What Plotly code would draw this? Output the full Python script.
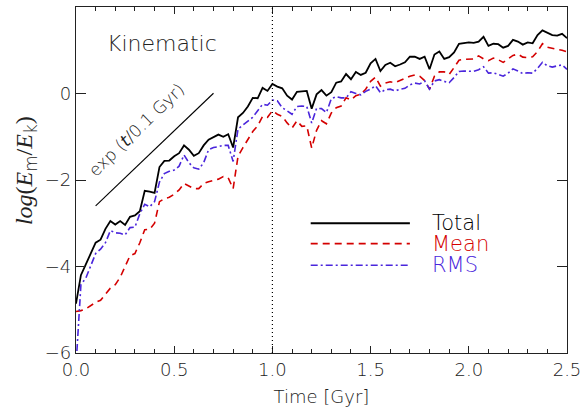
import numpy as np
import plotly.graph_objects as go

# Time grid [Gyr]
time = [round(0.025 * i, 3) for i in range(101)]

total = [-4.86, -4.2, -3.95, -3.7, -3.45, -3.38, -3.13, -2.95, -3.03, -2.95,
         -3.04, -2.85, -2.82, -2.72, -2.25, -2.27, -2.3, -1.7, -1.56, -1.55,
         -1.45, -1.38, -1.2, -1.3, -1.44, -1.38, -1.2, -1.07, -1.0, -0.95,
         -1.0, -0.94, -1.25, -0.55, -0.45, -0.3, -0.1, -0.11, 0.13, 0.06,
         0.22, 0.16, 0.12, -0.05, -0.14, 0.04, 0.05, 0.06, -0.35, -0.02,
         0.08, -0.05, 0.03, 0.25, 0.28, 0.45, 0.33, 0.5, 0.43, 0.48,
         0.7, 0.8, 0.52, 0.66, 0.71, 0.63, 0.67, 0.72, 0.85, 0.85,
         0.8, 0.85, 0.56, 0.9, 0.97, 0.8, 0.84, 0.95, 1.15, 1.17,
         1.18, 1.17, 1.2, 1.31, 1.1, 1.15, 1.14, 1.06, 1.1, 1.24,
         1.2, 1.13, 1.18, 1.16, 1.35, 1.46, 1.41, 1.35, 1.34, 1.38, 1.28]

mean = [-5.04, -5.02, -4.98, -4.9, -4.83, -4.78, -4.65, -4.5, -4.42, -4.25,
        -4.0, -3.75, -3.7, -3.45, -3.15, -3.14, -3.0, -2.5, -2.43, -2.4,
        -2.33, -2.23, -2.08, -2.15, -2.2, -2.2, -2.08, -2.04, -2.01, -1.98,
        -1.92, -1.95, -2.2, -1.45, -1.25, -1.05, -0.88, -0.75, -0.53, -0.55,
        -0.4, -0.48, -0.53, -0.68, -0.8, -0.63, -0.76, -0.75, -1.26, -0.85,
        -0.63, -0.7, -0.45, -0.33, -0.29, -0.1, -0.15, -0.05, -0.02, 0.1,
        0.28, 0.38, 0.17, 0.24, 0.27, 0.25, 0.3, 0.35, 0.4, 0.43,
        0.4, 0.3, 0.1, 0.4, 0.5, 0.5, 0.44, 0.6, 0.77, 0.79,
        0.79, 0.8, 0.87, 0.8, 0.76, 0.82, 0.78, 0.72, 0.8, 0.88,
        0.91, 0.84, 0.83, 0.85, 0.97, 1.15, 1.07, 1.04, 1.02, 1.0, 0.96]

rms = [-6.3, -4.42, -4.27, -4.0, -3.7, -3.6, -3.45, -3.17, -3.22, -3.23,
       -3.27, -3.1, -3.09, -2.78, -2.56, -2.62, -2.5, -2.05, -1.85, -1.8,
       -1.77, -1.68, -1.42, -1.6, -1.72, -1.75, -1.6, -1.3, -1.25, -1.23,
       -1.2, -1.2, -1.57, -0.82, -0.73, -0.65, -0.55, -0.4, -0.25, -0.27,
       -0.15, -0.17, -0.33, -0.4, -0.48, -0.3, -0.29, -0.3, -0.68, -0.34,
       -0.35, -0.44, -0.12, -0.07, -0.1, -0.1, 0.04, 0.0, -0.03, 0.05,
       0.1, 0.18, 0.02, 0.09, 0.1, 0.06, 0.1, 0.12, 0.2, 0.24,
       0.22, 0.29, 0.1, 0.29, 0.32, 0.28, 0.25, 0.37, 0.51, 0.52,
       0.52, 0.51, 0.55, 0.62, 0.47, 0.48, 0.44, 0.4, 0.47, 0.57,
       0.52, 0.46, 0.48, 0.47, 0.58, 0.72, 0.64, 0.61, 0.64, 0.66, 0.56]

x_ticks = [0.0, 0.5, 1.0, 1.5, 2.0, 2.5]
x_ticklabels = ["0.0", "0.5", "1.0", "1.5", "2.0", "2.5"]
y_ticks = [-6, -4, -2, 0, 2]

# reference growth line exp(t/0.1 Gyr) in log10
ref_t = [0.1, 0.7]
ref_y = [-2.6, -2.6 + (0.7 - 0.1) / 0.1 / np.log(10)]

series_names = ["Total", "Mean", "RMS"]
RED = "#d40000"
BLUE = "#4a26dc"
colors = ["black", RED, BLUE]
dashes = ["solid", "7px,5px", "7px,3px,2px,3px"]
widths = [1.8, 1.6, 1.6]

FONT = "DejaVu Sans, Liberation Sans, sans-serif"
SERIF = "Liberation Serif, DejaVu Serif, serif"
W = 200

fig = go.Figure()
for name, vals, c, d, w in zip(series_names, [total, mean, rms], colors, dashes, widths):
    fig.add_trace(go.Scatter(x=time, y=vals, mode="lines", name=name,
                             line=dict(color=c, dash=d, width=w), showlegend=False))

fig.add_trace(go.Scatter(x=ref_t, y=ref_y, mode="lines",
                         line=dict(color="black", width=1.1), showlegend=False))

# vertical dotted line at 1 Gyr
fig.add_shape(type="line", x0=1.0, x1=1.0, y0=0, y1=1, xref="x", yref="paper",
              line=dict(color="black", width=1.2, dash="1px,3px"))

# custom legend
leg_y = [-3.0, -3.47, -3.97]
for name, c, d, w, yy in zip(series_names, colors, dashes, widths, leg_y):
    fig.add_trace(go.Scatter(x=[1.195, 1.70], y=[yy, yy], mode="lines",
                             line=dict(color=c, dash=d, width=w), showlegend=False))
    fig.add_annotation(x=1.80, y=yy, text=name, showarrow=False, xanchor="left",
                       yanchor="middle", font=dict(family=FONT, size=21, color=c, weight=W))

fig.add_annotation(x=0.44, y=1.15, text="Kinematic", showarrow=False,
                   font=dict(family=FONT, size=22, color="#222", weight=W))
fig.add_annotation(x=0.306, y=-0.84, text="exp (<i>t</i>/0.1 Gyr)", showarrow=False,
                   textangle=-44, font=dict(family=FONT, size=17, color="#222", weight=W))

# y-axis title
fig.add_annotation(xref="paper", yref="paper", x=-0.103, y=0.527,
                   text="<i>log</i>(<i>E</i><sub><span style='font-family:DejaVu Sans;font-weight:200'>m</span></sub>/"
                        "<i>E</i><sub><span style='font-family:DejaVu Sans;font-weight:200'>k</span></sub>)",
                   showarrow=False, textangle=-90, xanchor="center", yanchor="middle",
                   font=dict(family=SERIF, size=24, color="#222", weight="normal"))

fig.update_layout(
    width=587, height=416,
    margin=dict(l=76, r=15, t=6, b=63),
    paper_bgcolor="white", plot_bgcolor="white",
    font=dict(family=FONT, size=18, color="#222", weight=W),
    xaxis=dict(range=[0, 2.5], tickvals=x_ticks, ticktext=x_ticklabels,
               ticks="inside", ticklen=7, tickcolor="#222", tickwidth=1,
               tickfont=dict(family=FONT, size=18, weight=W),
               minor=dict(dtick=0.1, ticks="inside", ticklen=4, tickcolor="#222", showgrid=False),
               showline=True, linecolor="#222", linewidth=1.3, mirror="ticks",
               showgrid=False, zeroline=False,
               title=dict(text="Time [Gyr]", font=dict(family=FONT, size=18, weight=W), standoff=11)),
    yaxis=dict(range=[-6, 2], tickvals=y_ticks,
               ticks="inside", ticklen=10, tickcolor="#222", tickwidth=1,
               tickfont=dict(family=FONT, size=18, weight=W),
               showline=True, linecolor="#222", linewidth=1.3, mirror="ticks",
               showgrid=False, zeroline=False),
)

fig.write_html("out.html")
